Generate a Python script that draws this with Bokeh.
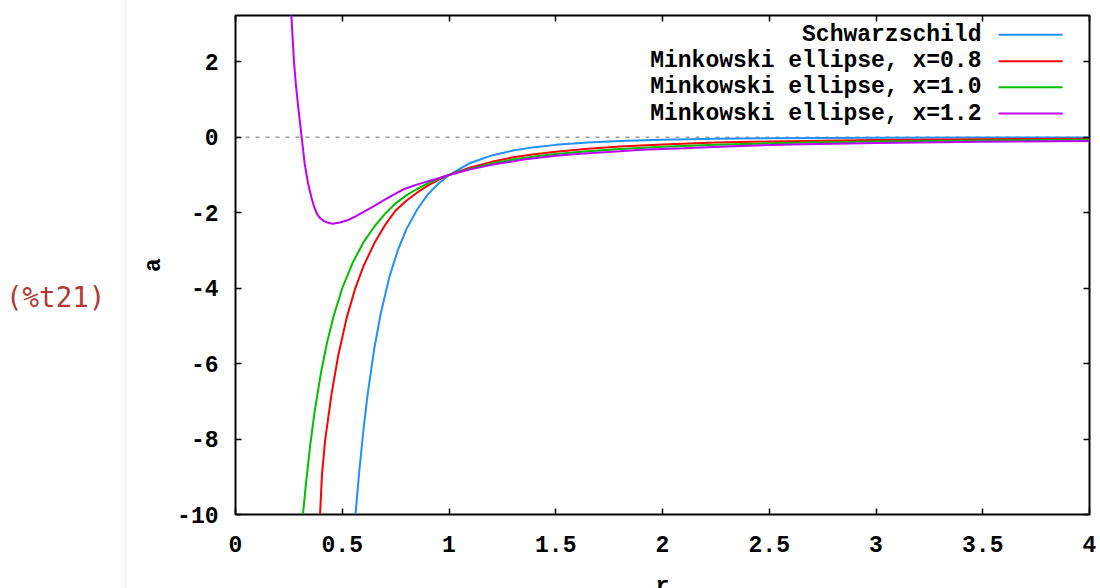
from bokeh.plotting import figure
from bokeh.layouts import row
from bokeh.models import LinearAxis, Range1d, Span, FixedTicker, CustomJSTickFormatter, Div
from bokeh.embed import file_html
from bokeh.resources import INLINE
from bokeh.core.properties import value

# ---- data ----
x_ticks = [0, 0.5, 1, 1.5, 2, 2.5, 3, 3.5, 4]
y_ticks = [-10, -8, -6, -4, -2, 0, 2]

series_names = ["Schwarzschild", "Minkowski ellipse, x=0.8",
                "Minkowski ellipse, x=1.0", "Minkowski ellipse, x=1.2"]
series_colors = ["#1e90ff", "#ff0000", "#00c000", "#c000ff"]

r_schw = [0.562, 0.58, 0.60, 0.62, 0.65, 0.68, 0.72, 0.76, 0.80, 0.85, 0.90, 0.95, 1.0,
          1.1, 1.2, 1.3, 1.4, 1.5, 1.65, 1.8, 2.0, 2.25, 2.5, 2.75, 3.0, 3.5, 4.0]
a_schw = [-10.0, -8.84, -7.72, -6.77, -5.60, -4.68, -3.72, -3.00, -2.44, -1.92, -1.52, -1.23, -1.0,
          -0.68, -0.48, -0.35, -0.26, -0.20, -0.135, -0.095, -0.0625, -0.039, -0.026, -0.017,
          -0.012, -0.0067, -0.0039]

r_m08 = [0.396, 0.405, 0.42, 0.45, 0.48, 0.52, 0.56, 0.60, 0.65, 0.70, 0.75, 0.80, 0.85, 0.90,
         0.95, 1.0, 1.1, 1.2, 1.3, 1.4, 1.5, 1.65, 1.8, 2.0, 2.25, 2.5, 2.75, 3.0, 3.5, 4.0]
a_m08 = [-10.0, -8.95, -8.02, -6.80, -5.82, -4.80, -4.02, -3.41, -2.81, -2.33, -1.94, -1.68, -1.47,
         -1.28, -1.13, -1.0, -0.80, -0.65, -0.53, -0.45, -0.38, -0.30, -0.24, -0.19, -0.14, -0.11,
         -0.088, -0.072, -0.050, -0.036]

r_m10 = [0.316, 0.33, 0.35, 0.37, 0.40, 0.43, 0.46, 0.50, 0.55, 0.60, 0.65, 0.70, 0.75, 0.80, 0.85,
         0.90, 0.95, 1.0, 1.1, 1.2, 1.3, 1.4, 1.5, 1.65, 1.8, 2.0, 2.25, 2.5, 2.75, 3.0, 3.5, 4.0]
a_m10 = [-10.0, -9.18, -8.16, -7.30, -6.25, -5.41, -4.73, -4.00, -3.31, -2.78, -2.37, -2.03, -1.75,
         -1.54, -1.37, -1.22, -1.10, -1.0, -0.83, -0.69, -0.59, -0.51, -0.44, -0.37, -0.31, -0.25,
         -0.20, -0.16, -0.13, -0.11, -0.082, -0.063]

r_m12 = [0.258, 0.262, 0.274, 0.282, 0.29, 0.31, 0.324, 0.34, 0.355, 0.367, 0.38, 0.39, 0.40,
         0.415, 0.43, 0.454, 0.49, 0.524, 0.56, 0.602, 0.64, 0.673, 0.712, 0.75, 0.79, 0.83, 0.869,
         0.91, 0.947, 1.0, 1.1, 1.2, 1.35, 1.5, 1.6, 1.8, 1.9, 2.1, 2.3, 2.6, 3.0, 3.5, 4.0]
a_m12 = [3.6, 3.2, 2.0, 1.45, 1.0, 0.0, -0.70, -1.22, -1.58, -1.82, -2.01, -2.10, -2.16,
         -2.22, -2.26, -2.29, -2.26, -2.20, -2.10, -1.97, -1.85, -1.74, -1.61, -1.49, -1.37, -1.29,
         -1.22, -1.15, -1.09, -1.0, -0.85, -0.73, -0.59, -0.49, -0.44, -0.37, -0.33, -0.29, -0.24,
         -0.19, -0.15, -0.12, -0.10]

series_r = [r_schw, r_m08, r_m10, r_m12]
series_a = [a_schw, a_m08, a_m10, a_m12]

# ---- styling ----
FONT = "Liberation Mono"
FS = "23px"

p = figure(width=974, height=614, x_range=Range1d(0, 4), y_range=Range1d(-10, 3.23),
           output_backend="svg", toolbar_location=None,
           min_border_left=109, min_border_right=11, min_border_top=15, min_border_bottom=100)
p.background_fill_color = "white"
p.border_fill_color = "white"
p.outline_line_color = "black"
p.outline_line_width = 2
p.grid.visible = False

fmt = CustomJSTickFormatter(code="return String(tick);")

for ax in (p.xaxis[0], p.yaxis[0]):
    ax.major_tick_in = 6
    ax.major_tick_out = 0
    ax.minor_tick_line_color = None
    ax.axis_line_color = None
    ax.major_tick_line_color = "black"
    ax.major_tick_line_width = 1.5
    ax.major_label_text_font = FONT
    ax.major_label_text_font_style = "bold"
    ax.major_label_text_font_size = FS
    ax.major_label_text_color = "black"
    ax.axis_label_text_font = FONT
    ax.axis_label_text_font_style = "bold"
    ax.axis_label_text_font_size = FS
    ax.axis_label_text_color = "black"
    ax.formatter = fmt

p.xaxis[0].ticker = FixedTicker(ticks=x_ticks)
p.yaxis[0].ticker = FixedTicker(ticks=y_ticks)
p.xaxis[0].axis_label = "r"
p.yaxis[0].axis_label = "a"
p.xaxis[0].major_label_standoff = 21
p.xaxis[0].axis_label_standoff = 19
p.yaxis[0].major_label_standoff = 17
p.yaxis[0].axis_label_standoff = 7

# mirrored ticks on top and right
for side, ticks in (("above", x_ticks), ("right", y_ticks)):
    ax = LinearAxis(ticker=FixedTicker(ticks=ticks), major_tick_in=6, major_tick_out=0,
                    minor_tick_line_color=None, axis_line_color=None,
                    major_tick_line_color="black", major_tick_line_width=1.5,
                    major_label_text_font_size="0px", major_label_standoff=0,
                    formatter=CustomJSTickFormatter(code="return '';"))
    p.add_layout(ax, side)

# zero axis
p.add_layout(Span(location=0, dimension="width", line_color="#a0a0a0",
                  line_dash="4 6", line_width=1.5, level="underlay"))

for r, a, c in zip(series_r, series_a, series_colors):
    p.line(r, a, line_color=c, line_width=2)

# legend (text right-aligned, sample line to the right, as in gnuplot)
leg_y = [2.72, 2.02, 1.33, 0.63]
p.text(x=[3.494] * 4, y=leg_y, text=series_names, text_align="right",
       text_baseline="middle", text_font=value(FONT), text_font_style="bold",
       text_font_size=FS, text_color="black")
p.segment(x0=[3.574] * 4, y0=leg_y, x1=[3.874] * 4, y1=leg_y,
          line_color=series_colors, line_width=2)

# Maxima output label on the left
label_div = Div(
    text=('<div style="padding-top:280px;padding-left:6px;line-height:34px;'
          'font-family:\'DejaVu Sans Mono\';font-size:27.5px;color:#b03a35;">(%t21)</div>'),
    width=126, height=614, margin=0,
    styles={"border-right": "1px solid #f3f3f3", "box-sizing": "border-box"})

layout = row(label_div, p)

open("out.html", "w").write(file_html(layout, INLINE))
